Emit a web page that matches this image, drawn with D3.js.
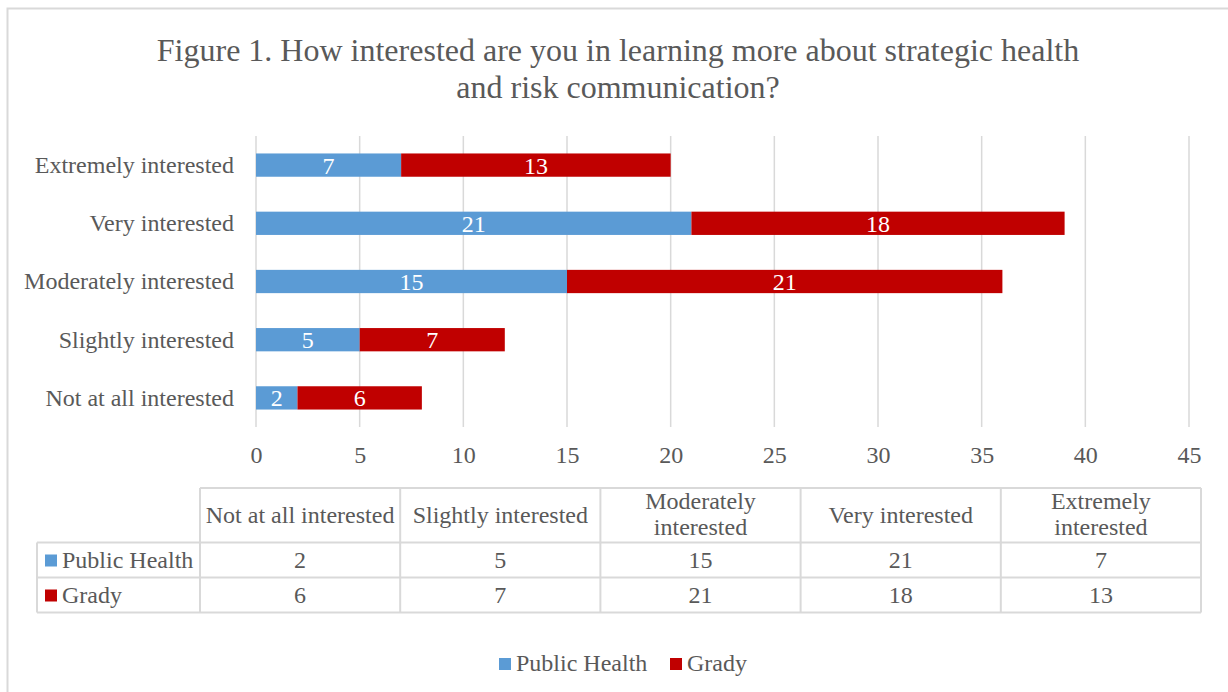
<!DOCTYPE html>
<html>
<head>
<meta charset="utf-8">
<script src="https://cdn.jsdelivr.net/npm/d3@7"></script>
<style>
  body { margin: 0; background: #fff; }
  svg { display: block; font-family: "Liberation Serif", "Times New Roman", serif; }
</style>
</head>
<body>
<div id="chart"></div>
<script>
// chart data
const categories = ['Not at all interested', 'Slightly interested', 'Moderately interested', 'Very interested', 'Extremely interested'];
const publicHealth = [2, 5, 15, 21, 7];
const grady = [6, 7, 21, 18, 13];
const seriesNames = ['Public Health', 'Grady'];
const tickValues = [0, 5, 10, 15, 20, 25, 30, 35, 40, 45];
// header cells of the data table (line breaks as in the picture)
const tableHeaders = [['Not at all interested'], ['Slightly interested'], ['Moderately', 'interested'], ['Very interested'], ['Extremely', 'interested']];

const W = 1228, H = 692;
const colors = ['#5B9BD5', '#C00000'];
const textColor = '#595959';
const lineColor = '#D9D9D9';
const fs = '24px';

const svg = d3.select('#chart').append('svg')
    .attr('width', W)
    .attr('height', H);

// outer chart border
svg.append('rect')
    .attr('x', 7.5).attr('y', 8.5)
    .attr('width', W + 10).attr('height', H + 10)
    .attr('fill', 'none')
    .attr('stroke', lineColor)
    .attr('stroke-width', 2);

// title
const title = svg.append('text')
    .attr('text-anchor', 'middle')
    .attr('fill', textColor)
    .style('font-size', '32px');
title.append('tspan').attr('x', 618).attr('y', 61)
    .text('Figure 1. How interested are you in learning more about strategic health');
title.append('tspan').attr('x', 618).attr('y', 98)
    .text('and risk communication?');

const plot = { left: 256, right: 1189, top: 136, bottom: 427 };

const x = d3.scaleLinear()
    .domain([0, 45])
    .range([plot.left, plot.right]);

// top category is the last one
const y = d3.scaleBand()
    .domain(categories.slice().reverse())
    .range([plot.top, plot.bottom])
    .paddingInner(0.6)
    .paddingOuter(0.3);

// vertical gridlines
svg.append('g')
    .selectAll('line')
    .data(tickValues)
    .join('line')
    .attr('x1', d => x(d)).attr('x2', d => x(d))
    .attr('y1', plot.top).attr('y2', plot.bottom)
    .attr('stroke', lineColor)
    .attr('stroke-width', 1.5);

// x axis tick labels
const xAxis = d3.axisBottom(x).tickValues(tickValues).tickSize(0).tickPadding(0);
const xg = svg.append('g')
    .attr('transform', `translate(0,${plot.bottom})`)
    .call(xAxis);
xg.select('.domain').remove();
xg.selectAll('text')
    .attr('y', 36)
    .attr('dy', 0)
    .attr('fill', textColor)
    .style('font-family', '"Liberation Serif", serif')
    .style('font-size', fs);

// y axis category labels
const yAxis = d3.axisLeft(y).tickSize(0).tickPadding(0);
const yg = svg.append('g')
    .attr('transform', `translate(${plot.left - 22},0)`)
    .call(yAxis);
yg.select('.domain').remove();
yg.selectAll('text')
    .attr('dy', '0.33em')
    .attr('fill', textColor)
    .style('font-family', '"Liberation Serif", serif')
    .style('font-size', fs);

// stacked bars
const rows = categories.map((c, i) => ({ category: c, 'Public Health': publicHealth[i], 'Grady': grady[i] }));
const stacked = d3.stack().keys(seriesNames)(rows);

const layers = svg.append('g')
    .selectAll('g')
    .data(stacked)
    .join('g')
    .attr('fill', (d, i) => colors[i]);

layers.selectAll('rect')
    .data(d => d)
    .join('rect')
    .attr('x', d => x(d[0]))
    .attr('y', d => y(d.data.category))
    .attr('width', d => x(d[1]) - x(d[0]))
    .attr('height', y.bandwidth());

// data labels
layers.selectAll('text')
    .data(d => d)
    .join('text')
    .attr('x', d => (x(d[0]) + x(d[1])) / 2)
    .attr('y', d => y(d.data.category) + y.bandwidth() / 2)
    .attr('dy', '0.35em')
    .attr('text-anchor', 'middle')
    .attr('fill', '#fff')
    .style('font-size', fs)
    .text(d => d[1] - d[0]);

// data table below the chart
const table = { left: 37, firstCol: 200, right: 1201, top: 488, headBottom: 542.5, rowH: 35 };
const colW = (table.right - table.firstCol) / categories.length;
const tg = svg.append('g');
const tableRows = [publicHealth, grady];

// horizontal lines
const hLines = [
    { y: table.top, x1: table.firstCol },
    { y: table.headBottom, x1: table.left },
    { y: table.headBottom + table.rowH, x1: table.left },
    { y: table.headBottom + 2 * table.rowH, x1: table.left }
];
tg.selectAll('.hline')
    .data(hLines)
    .join('line')
    .attr('class', 'hline')
    .attr('x1', d => d.x1).attr('x2', table.right)
    .attr('y1', d => d.y).attr('y2', d => d.y)
    .attr('stroke', lineColor).attr('stroke-width', 2);

// vertical lines
const vLines = [{ x: table.left, y1: table.headBottom }]
    .concat(d3.range(categories.length + 1).map(i => ({ x: table.firstCol + i * colW, y1: table.top })));
tg.selectAll('.vline')
    .data(vLines)
    .join('line')
    .attr('class', 'vline')
    .attr('x1', d => d.x).attr('x2', d => d.x)
    .attr('y1', d => d.y1).attr('y2', table.headBottom + 2 * table.rowH)
    .attr('stroke', lineColor).attr('stroke-width', 2);

// header cells
tableHeaders.forEach((lines, i) => {
    const cx = table.firstCol + (i + 0.5) * colW;
    const t = tg.append('text')
        .attr('text-anchor', 'middle')
        .attr('fill', textColor)
        .style('font-size', fs);
    const startY = lines.length === 1 ? 523 : 509;
    lines.forEach((ln, j) => {
        t.append('tspan').attr('x', cx).attr('y', startY + j * 26).text(ln);
    });
});

// series rows
tableRows.forEach((vals, r) => {
    const rowTop = table.headBottom + r * table.rowH;
    const base = rowTop + 25;
    tg.append('rect')
        .attr('x', 45).attr('y', rowTop + 12)
        .attr('width', 12).attr('height', 12)
        .attr('fill', colors[r]);
    tg.append('text')
        .attr('x', 62).attr('y', base)
        .attr('fill', textColor)
        .style('font-size', fs)
        .text(seriesNames[r]);
    tg.selectAll(null)
        .data(vals)
        .join('text')
        .attr('x', (d, i) => table.firstCol + (i + 0.5) * colW)
        .attr('y', base)
        .attr('text-anchor', 'middle')
        .attr('fill', textColor)
        .style('font-size', fs)
        .text(d => d);
});

// legend
const legendItems = [{ name: seriesNames[0], x: 499 }, { name: seriesNames[1], x: 670 }];
const lg = svg.append('g');
legendItems.forEach((d, i) => {
    lg.append('rect')
        .attr('x', d.x).attr('y', 658)
        .attr('width', 12).attr('height', 12)
        .attr('fill', colors[i]);
    lg.append('text')
        .attr('x', d.x + 17).attr('y', 671)
        .attr('fill', textColor)
        .style('font-size', fs)
        .text(d.name);
});
</script>
</body>
</html>
